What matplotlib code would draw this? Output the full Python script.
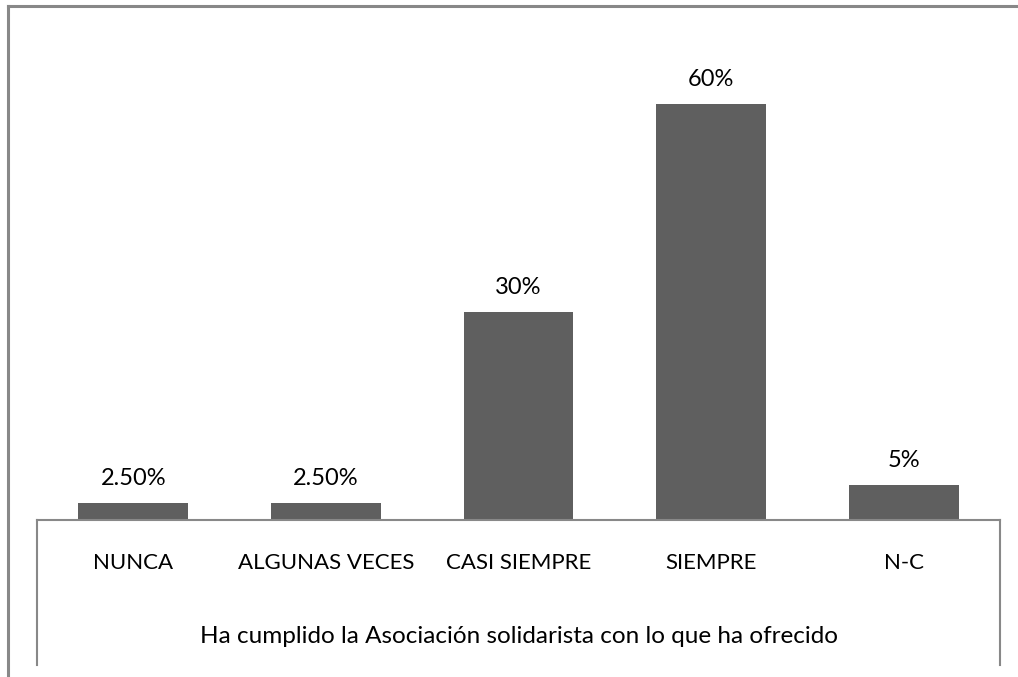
import matplotlib.pyplot as plt
from matplotlib.lines import Line2D

# Datos de la encuesta
categorias = ["NUNCA", "ALGUNAS VECES", "CASI SIEMPRE", "SIEMPRE", "N-C"]
valores = [0.025, 0.025, 0.30, 0.60, 0.05]
etiquetas = ["2.50%", "2.50%", "30%", "60%", "5%"]
titulo_x = "Ha cumplido la Asociación solidarista con lo que ha ofrecido"

plt.rcParams["font.family"] = ["Lato", "DejaVu Sans"]
fs = 16

W, H = 1018, 677
fig = plt.figure(figsize=(W / 100, H / 100), dpi=100)

# area de barras
ax = fig.add_axes([37 / W, (H - 520) / H, (1000 - 37) / W, (520 - 35) / H])
x = list(range(len(categorias)))
ax.bar(x, valores, width=0.57, color="#5f5f5f")
ax.set_xlim(-0.5, len(categorias) - 0.5)
ax.set_ylim(0, 0.7)

for xi, v, t in zip(x, valores, etiquetas):
    ax.annotate(t, (xi, v), xytext=(0, 10), textcoords="offset points",
                ha="center", va="bottom", fontsize=17, color="#000000")

for s in ["top", "left", "right"]:
    ax.spines[s].set_visible(False)
ax.spines["bottom"].set_color("#888888")
ax.spines["bottom"].set_linewidth(1.5)
ax.set_yticks([])
ax.set_xticks(x)
ax.set_xticklabels(categorias, fontsize=fs)
ax.tick_params(axis="x", length=0, pad=24)
ax.set_xlabel(titulo_x, fontsize=17.5, labelpad=38)

# marco exterior y caja de categorias
def linea(xs, ys, lw):
    fig.add_artist(Line2D([p / W for p in xs], [1 - p / H for p in ys],
                          color="#888888", linewidth=lw))

linea([8, 8], [6, 677], 2.2)
linea([8, 1018], [6, 6], 2.2)
linea([37, 37], [520, 665], 1.5)
linea([1000, 1000], [520, 665], 1.5)

fig.savefig("out.png", dpi=100, facecolor="white")
